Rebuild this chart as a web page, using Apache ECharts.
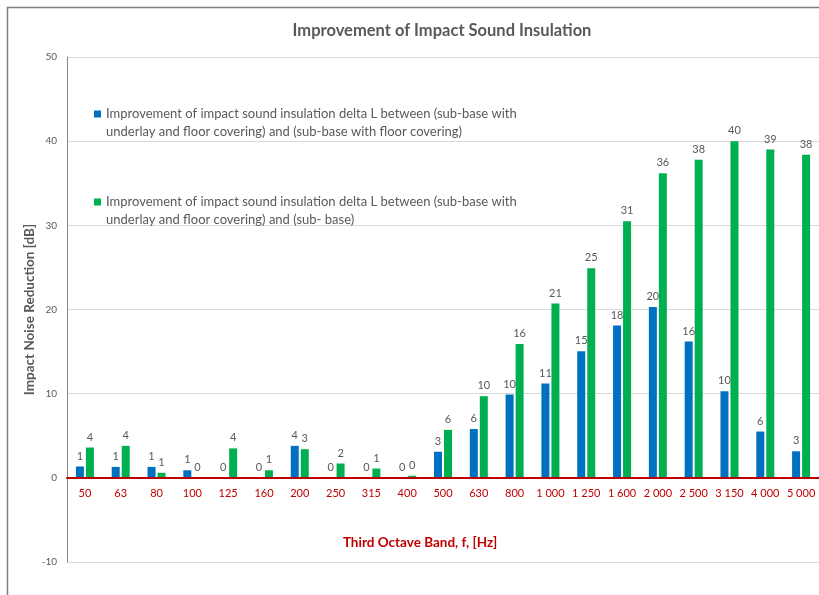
<!DOCTYPE html>
<html>
<head>
<meta charset="utf-8">
<script src="https://cdn.jsdelivr.net/npm/echarts@6/dist/echarts.min.js"></script>
<style>
html,body{margin:0;padding:0;background:#fff;}
#chart{width:819px;height:595px;}
</style>
</head>
<body>
<div id="chart"></div>
<script>
const categories = ['50','63','80','100','125','160','200','250','315','400','500','630','800','1 000','1 250','1 600','2 000','2 500','3 150','4 000','5 000'];
const seriesNames = [
  'Improvement of impact sound insulation delta L between (sub-base with underlay and floor covering) and (sub-base with floor covering)',
  'Improvement of impact sound insulation delta L between (sub-base with underlay and floor covering) and (sub- base)'
];
const legendLines = [
  ['Improvement of impact sound insulation delta L between (sub-base with', 'underlay and floor covering) and (sub-base with floor covering)'],
  ['Improvement of impact sound insulation delta L between (sub-base with', 'underlay and floor covering) and (sub- base)']
];
const blueValues = [1.35, 1.3, 1.3, 0.9, 0, 0, 3.8, 0, 0, 0, 3.1, 5.8, 9.9, 11.2, 15.05, 18.1, 20.3, 16.2, 10.3, 5.5, 3.15];
const greenValues = [3.6, 3.8, 0.6, 0, 3.5, 0.9, 3.4, 1.7, 1.1, 0.25, 5.7, 9.7, 15.9, 20.7, 24.9, 30.5, 36.2, 37.8, 40.0, 39.0, 38.4];
const yTicks = { min: -10, max: 50, interval: 10 };

const FONT = 'Lato';
const GRAY = '#595959';
const RED = '#C00000';

const chart = echarts.init(document.getElementById('chart'));
const labelOpt = {
  show: true,
  position: 'top',
  distance: 5,
  color: GRAY,
  fontFamily: FONT,
  fontSize: 11,
  formatter: p => Math.round(p.value)
};
chart.setOption({
  backgroundColor: '#fff',
  animation: false,
  title: [
    {
      text: 'Improvement of Impact Sound Insulation',
      left: 437, top: 17, textAlign: 'center',
      textStyle: { fontFamily: FONT, fontSize: 16.5, fontWeight: 'bold', color: GRAY }
    },
    {
      text: 'Third Octave Band, f, [Hz]',
      left: 415, top: 531, textAlign: 'center',
      textStyle: { fontFamily: FONT, fontSize: 13.5, fontWeight: 'bold', color: RED }
    }
  ],
  graphic: [{
    type: 'rect', left: 5, top: 5, silent: true,
    shape: { width: 840, height: 620 },
    style: { fill: null, stroke: '#7f7f7f', lineWidth: 1.5 }
  }],
  legend: {
    orient: 'vertical',
    left: 94, top: 87,
    padding: 0,
    itemWidth: 7, itemHeight: 7,
    itemGap: 34,
    icon: 'rect',
    data: seriesNames,
    formatter: name => { const i = seriesNames.indexOf(name); return ' \n' + legendLines[i][0] + '\n' + legendLines[i][1]; },
    textStyle: { fontFamily: FONT, fontSize: 13, color: GRAY, lineHeight: 18 }
  },
  grid: { left: 67, top: 57, bottom: 33, right: -5 },
  xAxis: {
    type: 'category',
    data: categories,
    offset: -84,
    axisLine: { onZero: false, lineStyle: { color: RED, width: 2 } },
    axisTick: { show: false },
    axisLabel: { color: RED, fontFamily: FONT, fontSize: 11, margin: 10, interval: 0 },
    z: 5
  },
  yAxis: {
    type: 'value',
    min: yTicks.min, max: yTicks.max, interval: yTicks.interval,
    name: 'Impact Noise Reduction [dB]',
    nameLocation: 'middle',
    nameGap: 30,
    nameMoveOverlap: false,
    nameTextStyle: { fontFamily: FONT, fontSize: 13.5, fontWeight: 'bold', color: GRAY },
    axisLine: { show: true, lineStyle: { color: '#868686', width: 1 } },
    axisTick: { show: false },
    axisLabel: { color: GRAY, fontFamily: FONT, fontSize: 10, margin: 10 },
    splitLine: { lineStyle: { color: '#D9D9D9', width: 1 } }
  },
  series: [
    {
      name: seriesNames[0], type: 'bar', data: blueValues,
      barWidth: 8, barGap: '25%',
      itemStyle: { color: '#0070C0' },
      label: labelOpt
    },
    {
      name: seriesNames[1], type: 'bar', data: greenValues,
      barWidth: 8, barGap: '25%',
      itemStyle: { color: '#00B050' },
      label: labelOpt
    }
  ]
});
</script>
</body>
</html>
